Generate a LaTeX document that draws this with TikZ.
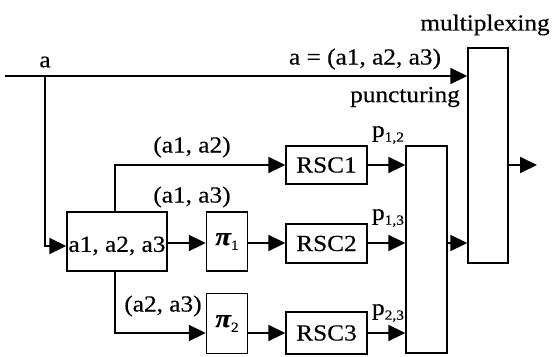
\documentclass[tikz,border=0pt]{standalone}
\usepackage{fontspec}
\setmainfont{Liberation Serif}[FakeStretch=1.1, FakeBold=0.4]
\usetikzlibrary{arrows.meta}
\newcommand{\subsc}[1]{\raisebox{-0.45ex}{\fontsize{14}{14}\selectfont #1}}
\newcommand{\pisym}{{\fontsize{26}{26}\selectfont\bfseries\itshape π}}
\tikzset{
  blk/.style={draw, line width=1.4pt, inner sep=0pt, font=\fontsize{23}{23}\selectfont},
  conn/.style={line width=1.9pt, -{Triangle[length=17pt,width=16pt]}},
  lbl/.style={inner sep=0pt, font=\fontsize{23}{23}\selectfont},
}
\begin{document}
\begin{tikzpicture}[x=1pt,y=-1pt]
\useasboundingbox (0,0) rectangle (554,356);

% blocks
\node[blk, minimum width=100pt, minimum height=59pt] (inbox) at (117,241.5) {};
\node[lbl] at (117,246) {a1, a2, a3};
\node[blk, minimum width=41pt, minimum height=59pt] (pi1) at (227,241.5) {\pisym\subsc{1}};
\node[blk, minimum width=41pt, minimum height=60pt] (pi2) at (227,323.5) {\pisym\subsc{2}};
\node[blk, minimum width=81pt, minimum height=38pt] (rsc1) at (326.5,165) {RSC1};
\node[blk, minimum width=81pt, minimum height=39pt] (rsc2) at (326.5,243.5) {RSC2};
\node[blk, minimum width=81pt, minimum height=42pt] (rsc3) at (326.5,333) {RSC3};
\node[blk, minimum width=41pt, minimum height=207pt] (punct) at (426.5,249.5) {};
\node[blk, minimum width=40pt, minimum height=215pt] (mux) at (488,155.5) {};

% signal rows
\coordinate (start) at (5,76);
\coordinate (split) at (45,76);
\coordinate (r1) at (0,165);
\coordinate (r2) at (0,243);
\coordinate (r3) at (0,333);
\coordinate (inrow) at (0,246);
\coordinate (out) at (537,165);

% connectors
\draw[conn] (start) -- (start -| mux.west);
\draw[conn] (split) |- (inbox.west |- inrow);
\draw[conn] ([xshift=-2pt]inbox.north) |- (rsc1.west);
\draw[conn] ([xshift=-2pt]inbox.south) |- (pi2.west |- r3);
\draw[conn] (inbox.east |- r2) -- (pi1.west |- r2);
\draw[conn] (pi1.east |- r2) -- (rsc2.west |- r2);
\draw[conn] (pi2.east |- r3) -- (rsc3.west |- r3);
\draw[conn] (rsc1.east |- r1) -- (punct.west |- r1);
\draw[conn] (rsc2.east |- r2) -- (punct.west |- r2);
\draw[conn] (rsc3.east |- r3) -- (punct.west |- r3);
\draw[conn] (punct.east |- r2) -- (mux.west |- r2);
\draw[conn] (mux.east |- out) -- (out);

% labels
\node[lbl] (la) at (45,62) {a};
\node[lbl] (lavec) at (365,59) {a = (a1, a2, a3)};
\node[lbl] (lpunct) at (405,97) {puncturing};
\node[lbl] (lmux) at (485,25) {multiplexing};
\node[lbl] (l12) at (192,147) {(a1, a2)};
\node[lbl] (l13) at (192,197) {(a1, a3)};
\node[lbl] (l23) at (163,306) {(a2, a3)};
\node[lbl] (p12) at (388,135) {p\subsc{1,2}};
\node[lbl] (p13) at (388,218) {p\subsc{1,3}};
\node[lbl] (p23) at (388,313) {p\subsc{2,3}};
\end{tikzpicture}
\end{document}
